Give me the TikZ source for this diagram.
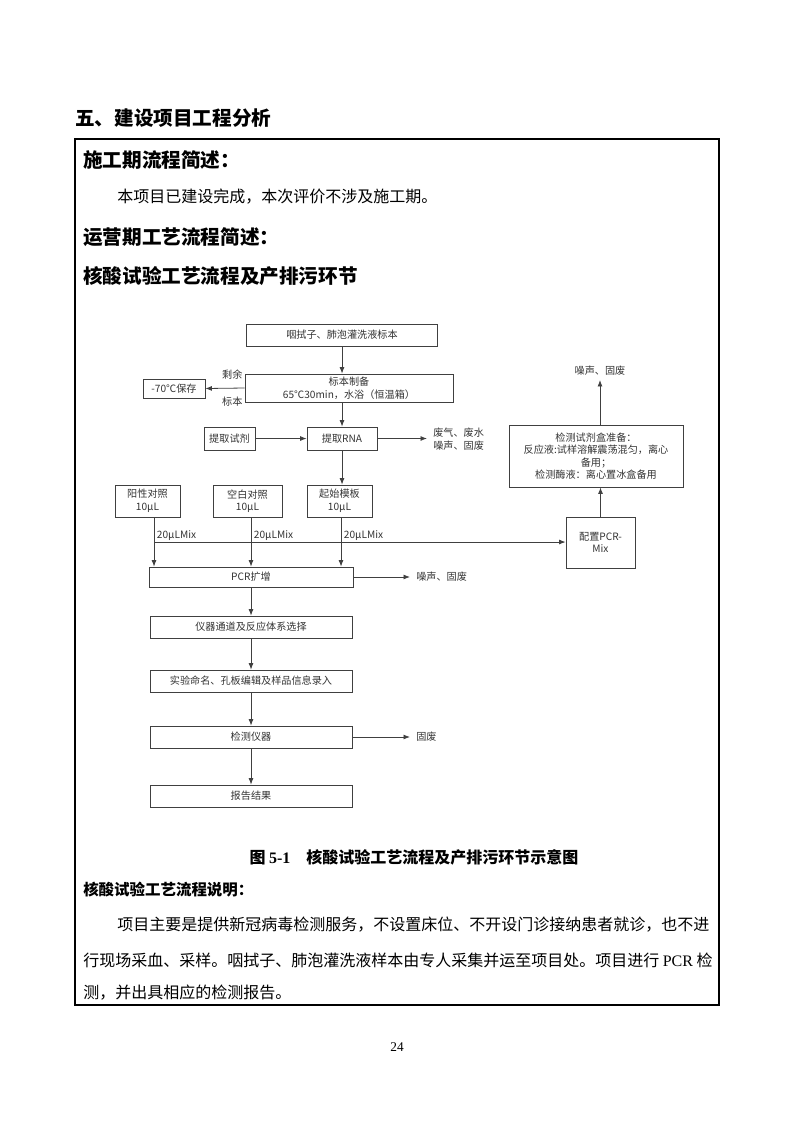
\documentclass[tikz,border=0pt]{standalone}
\usepackage{fontspec}
\setmainfont{Liberation Serif}
\newfontfamily\cjk{Noto Sans CJK SC}
\usetikzlibrary{arrows.meta,positioning}
\definecolor{linegray}{HTML}{404040}
\definecolor{textgray}{HTML}{333333}
\tikzset{wh/.style 2 args={minimum width=#1*0.75pt,minimum height=#2*0.75pt}}

\begin{document}
\begin{tikzpicture}[x=0.75pt,y=-0.75pt,>={Latex[length=1.7mm,width=1.3mm]},font=\cjk]
\tikzstyle{box}=[rectangle,draw=linegray,line width=0.6pt,text=textgray,font=\cjk\fontsize{7.6}{9.4}\selectfont,align=center,inner sep=1pt]
\tikzstyle{emit}=[text=textgray,font=\cjk\fontsize{7.6}{9.4}\selectfont,align=left,anchor=west,inner xsep=4.5pt,inner ysep=1pt]
\tikzstyle{flow}=[->,draw=linegray,line width=0.6pt]
\tikzstyle{head}=[anchor=west,font=\cjk\bfseries\fontsize{14.7}{17}\selectfont,inner sep=0pt]
\tikzstyle{body}=[anchor=west,font=\cjk\fontsize{12}{14}\selectfont,inner sep=0pt]
\useasboundingbox (0,0) rectangle (793,1122);

% page text
\node[head] (title) at (75,118) {五、建设项目工程分析};
\draw[line width=1.5pt] (75,139) rectangle (719,1005);
\node[head] (h1) at (83,160) {施工期流程简述：};
\node[body] (t1) at (117,197) {本项目已建设完成，本次评价不涉及施工期。};
\node[head] (h2) at (83,237) {运营期工艺流程简述：};
\node[head] (h3) at (83,276) {核酸试验工艺流程及产排污环节};

% flow chart
\node[box,wh={191}{22}] (swab) at (342,335) {咽拭子、肺泡灌洗液标本};
\node[box,wh={208}{28}] (prep) at (349,388) {标本制备\\65℃30min，水浴（恒温箱）};
\node[box,wh={62}{19}] (store) at (174,388.5) {-70℃保存};
\node[emit,anchor=east,inner xsep=1pt] (rest1) at (244,375) {剩余};
\node[emit,anchor=east,inner xsep=1pt] (rest2) at (244,402) {标本};
\node[box,wh={51}{23}] (reag) at (229.5,438.5) {提取试剂};
\node[box,wh={70}{23}] (rna) at (342,438.5) {提取RNA};
\node[emit] (w1) at (427,439) {废气、废水\\噪声、固废};
\node[box,wh={65}{32}] (pos) at (147.5,501) {阳性对照\\10μL};
\node[box,wh={69}{32}] (blank) at (247.5,501) {空白对照\\10μL};
\node[box,wh={65}{32}] (tmpl) at (339.5,501) {起始模板\\10μL};
\node[box,wh={204}{20}] (pcr) at (251,577) {PCR扩增};
\node[emit] (w2) at (410,577) {噪声、固废};
\node[box,wh={202}{22}] (chan) at (251,627) {仪器通道及反应体系选择};
\node[box,wh={202}{22}] (name) at (251,681) {实验命名、孔板编辑及样品信息录入};
\node[box,wh={202}{22}] (inst) at (251,737) {检测仪器};
\node[emit] (w3) at (410,737) {固废};
\node[box,wh={202}{22}] (rep) at (251,796) {报告结果};
\node[box,wh={69}{51}] (mix) at (600.5,542.5) {配置PCR-\\Mix};
\node[box,wh={174}{62}] (kit) at (596,456) {检测试剂盒准备：\\反应液:试样溶解震荡混匀，离心\\备用；\\检测酶液：离心置冰盒备用};
\node[emit,anchor=center,inner ysep=3pt] (w4) at (600,371) {噪声、固废};

\draw[flow] (swab.south) -- (swab.south |- prep.north);
\draw[flow] (prep.west) -- (store.east);
\draw[flow] (rna.north |- prep.south) -- (rna.north);
\draw[flow] (reag) -- (rna);
\draw[flow] (rna.east) -- (w1.west |- rna.east);
\draw[flow] (rna.south) -- (rna.south |- tmpl.north);

% three samples into PCR
\coordinate (vpos) at (154,517);
\coordinate (vblank) at (251,517);
\coordinate (vtmpl) at (341,517);
\foreach \v/\n in {vpos/mixa,vblank/mixb,vtmpl/mixc}{
  \draw[flow] (\v) -- (\v |- pcr.north);
  \node[emit,inner xsep=2pt] (\n) at ([yshift=-19*0.75pt]\v) {20μLMix};
}
\coordinate (hline) at (154,542);
\draw[flow] (hline) -- (hline -| mix.west);

\draw[flow] (pcr) -- (w2);
\draw[flow] (pcr) -- (chan);
\draw[flow] (chan) -- (name);
\draw[flow] (name) -- (inst);
\draw[flow] (inst) -- (w3);
\draw[flow] (inst) -- (rep);
\draw[flow] (mix.north) -- (mix.north |- kit.south);
\draw[flow] (w4.south |- kit.north) -- (w4.south);

% caption and notes
\node[font=\cjk\bfseries\fontsize{12}{14}\selectfont,inner sep=0pt] (cap) at (414,857) {图 {\rmfamily\bfseries 5-1}\hspace{1em}核酸试验工艺流程及产排污环节示意图};
\node[head,font=\cjk\bfseries\fontsize{11.6}{14}\selectfont] (h4) at (83,890) {核酸试验工艺流程说明：};
\node[body] (p1) at (117,925) {项目主要是提供新冠病毒检测服务，不设置床位、不开设门诊接纳患者就诊，也不进};
\node[body] (p2) at (83,960) {行现场采血、采样。咽拭子、肺泡灌洗液样本由专人采集并运至项目处。项目进行 {\rmfamily PCR} 检};
\node[body] (p3) at (83,993) {测，并出具相应的检测报告。};
\node[font=\rmfamily\fontsize{10}{12}\selectfont] (pg) at (397,1047) {24};
\end{tikzpicture}
\end{document}
